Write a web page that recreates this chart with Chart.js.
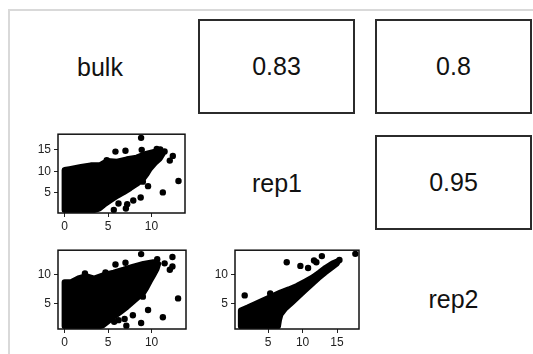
<!DOCTYPE html>
<html lang="en">
<head>
<meta charset="UTF-8">
<title>Pairs plot - bulk / rep1 / rep2</title>
<script src="https://cdn.jsdelivr.net/npm/chart.js"></script>
<style>
  body { margin: 0; background: #fff; font-family: "Liberation Sans", Arial, sans-serif; }
  #page { position: relative; width: 533px; height: 354px; overflow: hidden; }
  #frame { position: absolute; left: 8px; top: 9px; width: 600px; height: 400px; border-top: 2px solid #d9d9d9; border-left: 2px solid #d9d9d9; }
  .diag { position: absolute; width: 200px; height: 40px; line-height: 40px; text-align: center; font-size: 25px; color: #111; }
  .corr { position: absolute; box-sizing: border-box; width: 157px; height: 95px; border: 2px solid #2b2b2b; display: flex; align-items: center; justify-content: center; font-size: 25px; color: #111; }
  .panel { position: absolute; }
</style>
</head>
<body>
<div id="page"><div id="frame"></div></div>

<script>
// variables on the diagonal and the correlations in the upper panels
const varNames = ["bulk", "rep1", "rep2"];
const corrValues = [0.83, 0.8, 0.95]; // bulk~rep1, bulk~rep2, rep1~rep2

// tick labels
const bulkTicks = [0, 5, 10];
const rep1TicksY = [5, 10, 15];
const rep1TicksX = [5, 10, 15];
const rep2Ticks = [5, 10];

const coreRep1Bulk = [[0,1.0],[0,10.3],[0.57,10.5],[1.89,11.0],[3.02,11.4],[4.15,11.5],[4.9,12.4],[6.04,12.26],[7.17,12.8],[8.3,13.2],[9.25,14.0],[10.4,14.6],[11.1,14.6],[11.3,14.15],[10.95,13.0],[10.4,12.0],[9.8,10.6],[9.43,9.37],[8.98,8.16],[8.3,7.1],[7.55,6.1],[6.8,5.15],[6.04,4.3],[5.3,3.3],[4.5,2.2],[3.96,1.3],[3.4,1.0],[0,1.0]];
const outRep1Bulk = [[8.8,17.8],[5.85,14.6],[7.0,14.8],[8.87,15.0],[10.6,15.2],[11.0,15.1],[11.5,14.65],[12.45,13.6],[12.1,12.5],[13.1,7.75],[11.3,5.1],[9.0,7.6],[9.6,6.55],[8.75,3.9],[7.9,3.2],[7.2,2.35],[6.2,2.5],[7.05,1.35],[5.66,1.0],[4.85,12.6]];

const coreRep2Bulk = [[0,1.15],[0,8.75],[0.75,8.75],[1.7,9.47],[2.45,9.8],[3.4,9.37],[4.53,10.0],[5.66,10.4],[6.8,10.9],[7.93,11.45],[9.06,11.9],[10.2,12.2],[10.76,11.9],[10.57,11.0],[10.2,10.0],[9.8,8.95],[9.43,7.9],[9.06,6.97],[8.5,6.25],[7.93,5.5],[7.17,4.5],[6.42,3.64],[5.66,2.8],[4.9,1.9],[4.34,1.25],[4.0,1.15],[0,1.15]];
const outRep2Bulk = [[8.8,13.6],[12.4,13.1],[5.85,11.8],[7.0,12.1],[10.65,12.7],[11.5,12.0],[12.4,11.45],[12.1,10.9],[4.7,10.45],[2.34,10.25],[13.05,5.95],[9.6,3.95],[9.0,6.25],[11.3,2.7],[7.85,3.05],[8.8,1.7],[6.9,2.4],[7.1,1.25],[6.2,2.2],[5.7,1.9]];

const coreRep2Rep1 = [[1.04,1.14],[1.04,3.85],[2.04,4.37],[3.0,4.9],[3.94,5.4],[4.9,5.93],[5.86,6.45],[6.8,6.97],[8.0,7.5],[9.19,8.1],[10.37,8.85],[11.47,9.58],[12.43,10.4],[13.37,11.25],[14.33,11.97],[15.19,12.4],[14.9,11.9],[14.19,11.25],[13.23,10.4],[12.29,9.47],[11.33,8.44],[10.37,7.4],[9.43,6.35],[8.47,5.3],[7.5,4.27],[6.8,3.2],[6.57,2.19],[6.43,1.14],[1.04,1.14]];
const outRep2Rep1 = [[17.66,13.64],[7.7,12.2],[9.68,11.56],[12.8,13.25],[11.66,12.5],[12.0,12.2],[15.35,12.6],[10.8,11.2],[1.6,6.47],[5.3,6.8]];

const FONT = '"Liberation Sans", Arial, sans-serif';
const page = document.getElementById("page");

// diagonal labels
const colCenter = [100, 277, 453.5];
const rowCenter = [66.5, 182.5, 299];
varNames.forEach((name, i) => {
    let d = document.createElement("div");
    d.className = "diag";
    d.style.left = (colCenter[i] - 100) + "px";
    d.style.top = (rowCenter[i] - 20) + "px";
    d.innerText = name;
    page.appendChild(d);
});

// correlation boxes
const colLeft = [21, 198, 375];
const rowTop = [19, 135, 251];
[[0, 1], [0, 2], [1, 2]].forEach((p, k) => {
    let b = document.createElement("div");
    b.className = "corr";
    b.style.left = colLeft[p[1]] + "px";
    b.style.top = rowTop[p[0]] + "px";
    b.innerText = String(corrValues[k]);
    page.appendChild(b);
});

const boxFrame = {
    id: "boxFrame",
    afterDatasetsDraw(chart) {
        const a = chart.chartArea, c = chart.ctx;
        c.save();
        c.strokeStyle = "#111";
        c.lineWidth = 1.5;
        c.strokeRect(a.left, a.top, a.right - a.left, a.bottom - a.top);
        c.restore();
    }
};

function axis(min, max, ticks, isX) {
    return {
        type: "linear", min: min, max: max,
        afterBuildTicks: s => { s.ticks = ticks.map(v => ({ value: v })); },
        afterFit: s => { if (isX) s.height = 22; else s.width = 30; },
        border: { display: false },
        grid: { drawOnChartArea: false, drawTicks: true, tickLength: 4, color: "#222" },
        ticks: { font: { size: 12, family: FONT }, color: "#222", padding: isX ? 2 : 3, maxRotation: 0 }
    };
}

// area = chart area in page pixels
function panel(area, xr, yr, xt, yt, core, pts) {
    let c = document.createElement("canvas");
    c.className = "panel";
    c.width = area.w + 32;
    c.height = area.h + 24;
    c.style.left = (area.left - 30) + "px";
    c.style.top = (area.top - 2) + "px";
    page.appendChild(c);
    new Chart(c, {
        type: "scatter",
        data: {
            datasets: [
                { type: "line", data: core.map(p => ({ x: p[0], y: p[1] })), fill: "shape",
                  backgroundColor: "#000", borderColor: "#000", borderWidth: 6,
                  borderJoinStyle: "round", borderCapStyle: "round", pointRadius: 0, tension: 0 },
                { data: pts.map(p => ({ x: p[0], y: p[1] })), backgroundColor: "#000",
                  borderWidth: 0, pointRadius: 3.2 }
            ]
        },
        options: {
            responsive: false, animation: false,
            layout: { padding: { top: 2, right: 2, left: 0, bottom: 0 } },
            plugins: { legend: { display: false }, tooltip: { enabled: false } },
            scales: { x: axis(xr[0], xr[1], xt, true), y: axis(yr[0], yr[1], yt, false) }
        },
        plugins: [boxFrame]
    });
}

panel({ left: 58, top: 126, w: 129, h: 87 }, [-0.76, 13.85], [0.3, 18.65], bulkTicks, rep1TicksY, coreRep1Bulk, outRep1Bulk);
panel({ left: 58, top: 242, w: 130, h: 87 }, [-0.76, 13.96], [0.67, 14.27], bulkTicks, rep2Ticks, coreRep2Bulk, outRep2Bulk);
panel({ left: 235, top: 242, w: 126, h: 87 }, [0.19, 18.19], [0.67, 14.27], rep1TicksX, rep2Ticks, coreRep2Rep1, outRep2Rep1);
</script>
</body>
</html>
